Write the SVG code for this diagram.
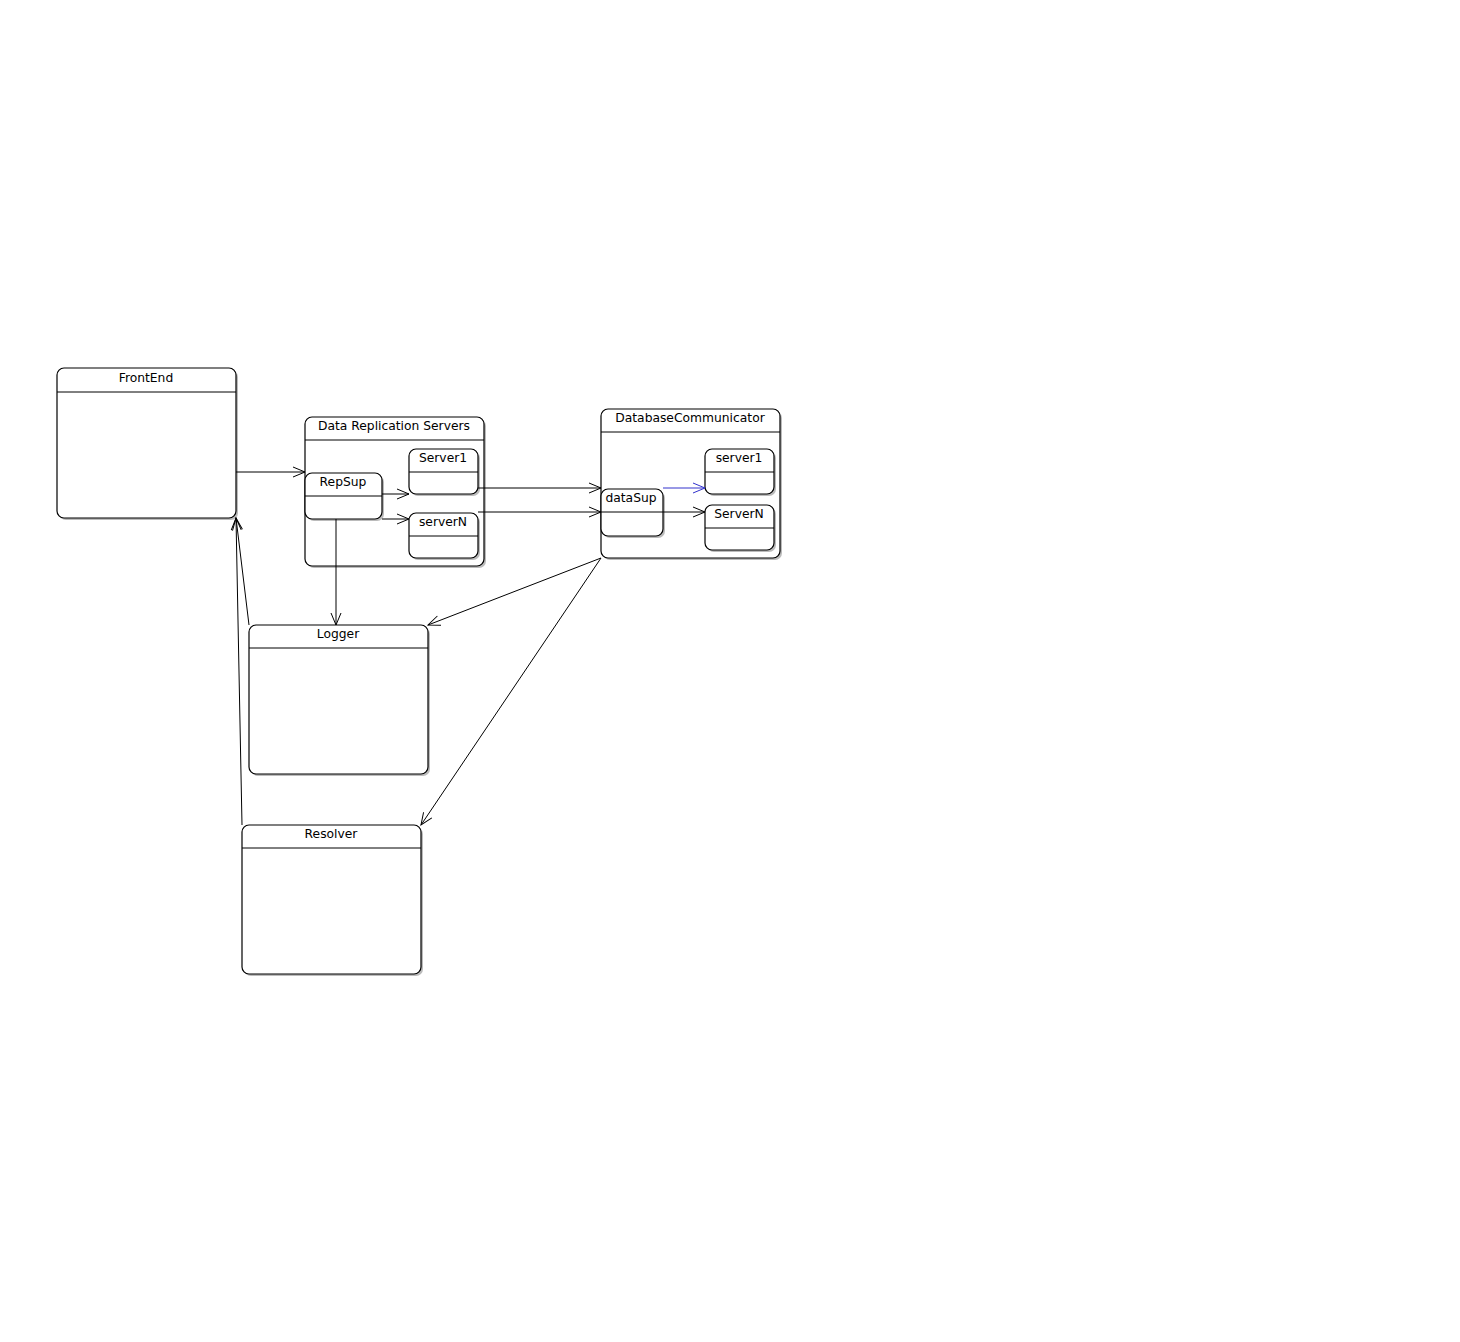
<svg xmlns="http://www.w3.org/2000/svg" width="1460" height="1342" viewBox="0 0 1460 1342">
<style>
.box{fill:#fff;stroke:#000;stroke-width:1.2}
.sh{fill:#bbb;stroke:none}
.div{stroke:#000;stroke-width:1}
.t{font-family:"DejaVu Sans",sans-serif;font-size:12.3px;fill:#000;text-anchor:middle}
.c{fill:none;stroke:#000;stroke-width:1}
.cb{fill:none;stroke:#33c;stroke-width:1}
</style>
<defs>
<marker id="a" markerWidth="14" markerHeight="12" refX="13" refY="6" orient="auto" markerUnits="userSpaceOnUse">
<path d="M1,1 L13,6 L1,11" fill="none" stroke="#000" stroke-width="1"/>
</marker>
<marker id="ab" markerWidth="14" markerHeight="12" refX="13" refY="6" orient="auto" markerUnits="userSpaceOnUse">
<path d="M1,1 L13,6 L1,11" fill="none" stroke="#33c" stroke-width="1"/>
</marker>
</defs>
<rect width="1460" height="1342" fill="#fff"/>
<g id="FrontEnd">
<rect class="sh" x="59" y="370" width="179" height="150" rx="7"/>
<rect class="box" x="57" y="368" width="179" height="150" rx="7"/>
<line class="div" x1="57" y1="392" x2="236" y2="392"/>
<text class="t" x="146" y="382">FrontEnd</text>
</g>
<g id="DataReplicationServers">
<rect class="sh" x="307" y="419" width="179" height="149" rx="7"/>
<rect class="box" x="305" y="417" width="179" height="149" rx="7"/>
<line class="div" x1="305" y1="440" x2="484" y2="440"/>
<text class="t" x="394" y="430">Data Replication Servers</text>
</g>
<g id="RepSup">
<rect class="sh" x="307" y="475" width="77" height="46" rx="7"/>
<rect class="box" x="305" y="473" width="77" height="46" rx="7"/>
<line class="div" x1="305" y1="496" x2="382" y2="496"/>
<text class="t" x="343" y="486">RepSup</text>
</g>
<g id="Server1">
<rect class="sh" x="411" y="451" width="69" height="45" rx="7"/>
<rect class="box" x="409" y="449" width="69" height="45" rx="7"/>
<line class="div" x1="409" y1="472" x2="478" y2="472"/>
<text class="t" x="443" y="462">Server1</text>
</g>
<g id="serverN">
<rect class="sh" x="411" y="515" width="69" height="45" rx="7"/>
<rect class="box" x="409" y="513" width="69" height="45" rx="7"/>
<line class="div" x1="409" y1="536" x2="478" y2="536"/>
<text class="t" x="443" y="526">serverN</text>
</g>
<g id="DatabaseCommunicator">
<rect class="sh" x="603" y="411" width="179" height="149" rx="7"/>
<rect class="box" x="601" y="409" width="179" height="149" rx="7"/>
<line class="div" x1="601" y1="432" x2="780" y2="432"/>
<text class="t" x="690" y="422">DatabaseCommunicator</text>
</g>
<g id="dataSup">
<rect class="sh" x="603" y="491" width="62" height="47" rx="7"/>
<rect class="box" x="601" y="489" width="62" height="47" rx="7"/>
<text class="t" x="631" y="502">dataSup</text>
</g>
<g id="server1">
<rect class="sh" x="707" y="451" width="69" height="45" rx="7"/>
<rect class="box" x="705" y="449" width="69" height="45" rx="7"/>
<line class="div" x1="705" y1="472" x2="774" y2="472"/>
<text class="t" x="739" y="462">server1</text>
</g>
<g id="ServerN">
<rect class="sh" x="707" y="507" width="69" height="45" rx="7"/>
<rect class="box" x="705" y="505" width="69" height="45" rx="7"/>
<line class="div" x1="705" y1="528" x2="774" y2="528"/>
<text class="t" x="739" y="518">ServerN</text>
</g>
<g id="Logger">
<rect class="sh" x="251" y="627" width="179" height="149" rx="7"/>
<rect class="box" x="249" y="625" width="179" height="149" rx="7"/>
<line class="div" x1="249" y1="648" x2="428" y2="648"/>
<text class="t" x="338" y="638">Logger</text>
</g>
<g id="Resolver">
<rect class="sh" x="244" y="827" width="179" height="149" rx="7"/>
<rect class="box" x="242" y="825" width="179" height="149" rx="7"/>
<line class="div" x1="242" y1="848" x2="421" y2="848"/>
<text class="t" x="331" y="838">Resolver</text>
</g>
<g id="connectors">
<line class="c" x1="236" y1="472" x2="305" y2="472" marker-end="url(#a)"/>
<line class="c" x1="382" y1="494" x2="409" y2="494" marker-end="url(#a)"/>
<line class="c" x1="382" y1="519" x2="409" y2="519" marker-end="url(#a)"/>
<line class="c" x1="478" y1="488" x2="601" y2="488" marker-end="url(#a)"/>
<line class="c" x1="478" y1="512" x2="601" y2="512" marker-end="url(#a)"/>
<line class="cb" x1="663" y1="488" x2="705" y2="488" marker-end="url(#ab)"/>
<line class="c" x1="601" y1="512" x2="705" y2="512" marker-end="url(#a)"/>
<line class="c" x1="336" y1="519" x2="336" y2="625" marker-end="url(#a)"/>
<line class="c" x1="601" y1="558" x2="428" y2="625" marker-end="url(#a)"/>
<line class="c" x1="601" y1="558" x2="421" y2="825" marker-end="url(#a)"/>
<line class="c" x1="249" y1="625" x2="236" y2="518" marker-end="url(#a)"/>
<line class="c" x1="242" y1="825" x2="236" y2="518" marker-end="url(#a)"/>
</g>
</svg>
